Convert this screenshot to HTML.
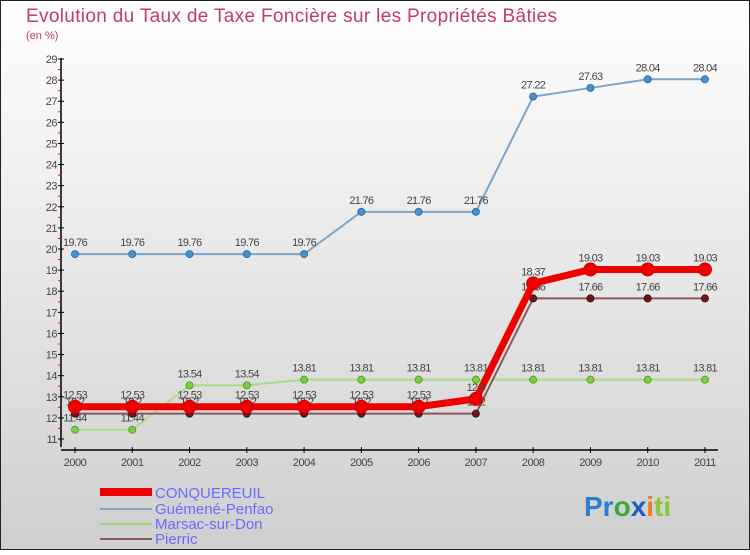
<!DOCTYPE html>
<html><head><meta charset="utf-8"><style>
body{margin:0;width:750px;height:550px;overflow:hidden;font-family:"Liberation Sans",sans-serif}
</style></head><body>
<svg id="c" width="750" height="550" xmlns="http://www.w3.org/2000/svg">
<defs><linearGradient id="bg" x1="0" y1="0" x2="0" y2="1"><stop offset="0" stop-color="#ffffff"/><stop offset="1" stop-color="#cfcfcf"/></linearGradient></defs>
<rect x="0.5" y="0.5" width="749" height="549" fill="url(#bg)" stroke="#222"/>
<text x="26" y="22" font-size="19" fill="#c43a6c" textLength="531" lengthAdjust="spacing">Evolution du Taux de Taxe Foncière sur les Propriétés Bâties</text>
<text x="26" y="39" font-size="11" fill="#c43a6c">(en %)</text>
<g id="axes"></g><g id="series"></g>
<rect x="100" y="488" width="52" height="8" fill="#e00"/>
<text x="155" y="498" font-size="15" fill="#6a6aff">CONQUEREUIL</text>
<line x1="100" y1="509" x2="152" y2="509" stroke="#7aa6cc" stroke-width="2"/>
<text x="155" y="514" font-size="15" fill="#6a6aff">Guémené-Penfao</text>
<line x1="100" y1="524" x2="152" y2="524" stroke="#9ed87a" stroke-width="2"/>
<text x="155" y="529" font-size="15" fill="#6a6aff">Marsac-sur-Don</text>
<line x1="100" y1="539" x2="152" y2="539" stroke="#8a5a5a" stroke-width="2"/>
<text x="155" y="544" font-size="15" fill="#6a6aff">Pierric</text>
<text x="584" y="516" font-size="28" font-weight="bold"><tspan fill="#2a7fd0">Pr</tspan><tspan fill="#3aa83a">o</tspan><tspan fill="#1a5fbf">x</tspan><tspan fill="#f07a1a">i</tspan><tspan fill="#8ac83a">ti</tspan></text>
</svg>
<script>
const years=[2000,2001,2002,2003,2004,2005,2006,2007,2008,2009,2010,2011];
const conquereuil=[12.53,12.53,12.53,12.53,12.53,12.53,12.53,12.9,18.37,19.03,19.03,19.03];
const guemene=[19.76,19.76,19.76,19.76,19.76,21.76,21.76,21.76,27.22,27.63,28.04,28.04];
const marsac=[11.44,11.44,13.54,13.54,13.81,13.81,13.81,13.81,13.81,13.81,13.81,13.81];
const pierric=[12.2,12.2,12.2,12.2,12.2,12.2,12.2,12.2,17.66,17.66,17.66,17.66];
const yTicks=[11,12,13,14,15,16,17,18,19,20,21,22,23,24,25,26,27,28,29];
const NS="http://www.w3.org/2000/svg";
const X=i=>75+i*57.27, Y=v=>439-(v-11)*21.11;
function mk(t,a,p){const e=document.createElementNS(NS,t);for(const k in a)e.setAttribute(k,a[k]);p.appendChild(e);return e;}
const ax=document.getElementById('axes');
let e=mk('line',{x1:61,y1:58,x2:61,y2:447,stroke:'#000','stroke-width':1.5},ax);


e=mk('line',{x1:61,y1:450,x2:718,y2:450,stroke:'#000','stroke-width':1.5},ax);


yTicks.forEach(v=>{mk('line',{x1:58,x2:64,y1:Y(v),y2:Y(v),stroke:'#000'},ax);
 if(v<29)mk('line',{x1:58,x2:61,y1:Y(v+0.5),y2:Y(v+0.5),stroke:'#e00'},ax);
 const t=mk('text',{x:57,y:Y(v)+4,'font-size':11,fill:'#444','text-anchor':'end','letter-spacing':'-0.5'},ax);t.textContent=v;
 
 });
years.forEach((y,i)=>{mk('line',{x1:X(i),x2:X(i),y1:447,y2:453,stroke:'#000'},ax);
 const t=mk('text',{x:X(i),y:466,'font-size':11,fill:'#444','text-anchor':'middle','letter-spacing':'-0.5'},ax);t.textContent=y;
 
 });
const sg=document.getElementById('series');
function series(d,name,col,w,r,dot,stroke){
 const g=mk('g',{},sg);
 
 
 mk('polyline',{points:d.map((v,i)=>X(i)+','+Y(v)).join(' '),fill:'none',stroke:col,'stroke-width':w,'stroke-linejoin':'round'},g);
 d.forEach((v,i)=>{const c=mk('circle',{cx:X(i),cy:Y(v),r:r,fill:dot,stroke:stroke,'stroke-width':1},g);
  
  
  const t=mk('text',{x:X(i),y:Y(v)-8,'font-size':11,fill:'#444','text-anchor':'middle','letter-spacing':'-0.7'},g);t.textContent=v;});
}
series(marsac,'marsac','#a8dc88',2,3.5,'#7ad040','#5aa030');
series(guemene,'guemene','#7aa6cc',2,3.5,'#4a90cc','#2a70aa');
series(pierric,'pierric','#8a5a5a',2,3.5,'#6a1a1a','#4a0a0a');
series(conquereuil,'conquereuil','#ee0000',7,6.5,'#ee0000','#cc0000');
</script>
</body></html>
